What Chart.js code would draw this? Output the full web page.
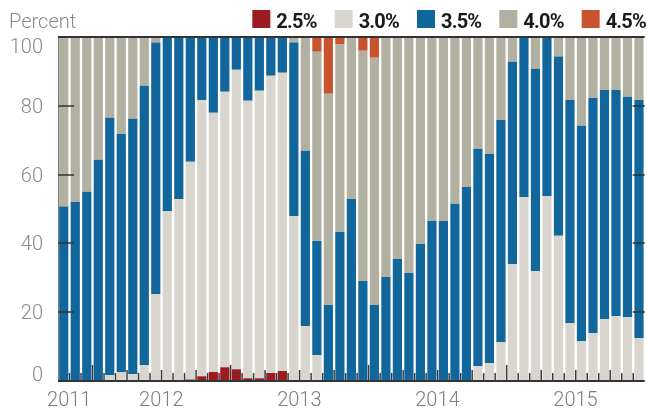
<!DOCTYPE html>
<html>
<head>
<meta charset="utf-8">
<script src="https://cdn.jsdelivr.net/npm/chart.js@4"></script>
<style>
  html, body { margin: 0; padding: 0; background: #fff; }
  canvas { display: block; }
</style>
</head>
<body>
<canvas id="chart" width="647" height="412"></canvas>
<script>
// one bar per month, Apr 2011 .. Jun 2015
const months = [
    '2011-04', '2011-05', '2011-06', '2011-07', '2011-08', '2011-09', '2011-10', '2011-11', '2011-12',
    '2012-01', '2012-02', '2012-03', '2012-04', '2012-05', '2012-06', '2012-07', '2012-08', '2012-09', '2012-10', '2012-11', '2012-12',
    '2013-01', '2013-02', '2013-03', '2013-04', '2013-05', '2013-06', '2013-07', '2013-08', '2013-09', '2013-10', '2013-11', '2013-12',
    '2014-01', '2014-02', '2014-03', '2014-04', '2014-05', '2014-06', '2014-07', '2014-08', '2014-09', '2014-10', '2014-11', '2014-12',
    '2015-01', '2015-02', '2015-03', '2015-04', '2015-05', '2015-06'
];

const seriesNames = ['2.5%', '3.0%', '3.5%', '4.0%', '4.5%'];

const rate25 = [
    0, 0, 0, 0, 0, 0, 0, 0, 0,
    0, 0, 0.4, 1.4, 2.6, 4.0, 3.4, 0.8, 0.8, 2.3, 2.9, 0,
    0, 0, 0, 0, 0, 0, 0, 0, 0, 0, 0, 0,
    0, 0, 0, 0, 0, 0, 0, 0, 0, 0, 0, 0,
    0, 0, 0, 0, 0, 0
];
const rate30 = [
    0, 0, 0, 0, 1.7, 2.6, 2.0, 4.6, 25.3,
    49.4, 52.9, 63.3, 80.3, 75.4, 80.1, 87.1, 80.7, 83.6, 86.4, 86.7, 48.0,
    16.0, 7.5, 0, 0, 0, 0, 0, 0, 0, 0, 0, 0,
    0, 0, 0, 4.3, 5.2, 11.3, 34.0, 53.5, 32.0, 53.8, 42.2, 16.8,
    11.6, 13.9, 18.0, 18.9, 18.6, 12.5
];
const rate35 = [
    50.7, 52.0, 55.0, 64.3, 74.8, 69.2, 74.2, 81.2, 73.1,
    50.6, 47.1, 36.3, 18.3, 22.0, 15.9, 9.5, 18.5, 15.6, 11.3, 10.4, 50.4,
    50.9, 33.2, 22.1, 43.3, 52.9, 29.1, 22.1, 30.2, 35.5, 31.4, 39.8, 46.5,
    46.5, 51.5, 56.4, 63.2, 60.8, 64.6, 58.8, 46.5, 58.8, 46.2, 52.1, 64.9,
    62.6, 68.4, 66.6, 65.7, 64.0, 69.2
];
const rate40 = [
    49.3, 48.0, 45.0, 35.7, 23.5, 28.2, 23.8, 14.2, 1.6,
    0, 0, 0, 0, 0, 0, 0, 0, 0, 0, 0, 1.6,
    33.1, 55.0, 61.4, 54.5, 47.1, 66.9, 71.9, 69.8, 64.5, 68.6, 60.2, 53.5,
    53.5, 48.5, 43.6, 32.5, 34.0, 24.1, 7.2, 0, 9.2, 0, 5.7, 18.3,
    25.8, 17.7, 15.4, 15.4, 17.4, 18.3
];
const rate45 = [
    0, 0, 0, 0, 0, 0, 0, 0, 0,
    0, 0, 0, 0, 0, 0, 0, 0, 0, 0, 0, 0,
    0, 4.3, 16.5, 2.2, 0, 4.0, 6.0, 0, 0, 0, 0, 0,
    0, 0, 0, 0, 0, 0, 0, 0, 0, 0, 0, 0,
    0, 0, 0, 0, 0, 0
];

const yTicks = [0, 20, 40, 60, 80, 100];
const yTitle = 'Percent';

const colors = ['#9b1c20', '#d8d5ce', '#11669b', '#b2b0a1', '#c8542f'];
const lightFont = '"Roboto", "Liberation Sans", sans-serif';
const legendFont = `bold 20px ${lightFont}`;

// gridline stubs, top/bottom rules, month marks, y labels and the legend
const framePlugin = {
    id: 'frame',
    afterDatasetsDraw(chart) {
        const { ctx, chartArea: area, scales: { x, y } } = chart;
        ctx.save();

        ctx.strokeStyle = '#7a7a7a';
        ctx.lineWidth = 1;
        ctx.beginPath();
        ctx.moveTo(area.left + 0.5, area.top);
        ctx.lineTo(area.left + 0.5, area.bottom);
        ctx.stroke();

        ctx.font = `300 20px ${lightFont}`;
        ctx.fillStyle = '#8a8a8a';
        ctx.textAlign = 'right';
        ctx.textBaseline = 'alphabetic';
        yTicks.forEach(v => {
            const py = Math.round(y.getPixelForValue(v));
            ctx.strokeStyle = '#333';
            ctx.beginPath();
            if (v === 0 || v === 100) {
                ctx.lineWidth = 2;
                ctx.moveTo(area.left, py);
                ctx.lineTo(area.right, py);
            } else {
                ctx.lineWidth = 1.5;
                ctx.moveTo(area.left, py);
                ctx.lineTo(area.left + 16, py);
                ctx.moveTo(area.right - 12, py);
                ctx.lineTo(area.right, py);
            }
            ctx.stroke();
            // end labels are kept inside the plot height
            const base = Math.min(Math.max(py + 7, area.top + 15.5), area.bottom - 0.5);
            ctx.fillText(String(v), 43, base);
        });

        ctx.strokeStyle = '#3a3a3a';
        ctx.lineWidth = 1.5;
        for (let i = 1; i < months.length; i++) {
            const px = (x.getPixelForValue(i - 1) + x.getPixelForValue(i)) / 2;
            const m = months[i].slice(5);
            let h = 8;
            if (m === '07') {
                h = 16;
            } else if (m === '01' || m === '04' || m === '10') {
                h = 11;
            }
            ctx.beginPath();
            ctx.moveTo(px, area.bottom);
            ctx.lineTo(px, area.bottom - h);
            ctx.stroke();
        }

        ctx.textAlign = 'left';
        ctx.fillText(yTitle, 9, 28);

        // legend, laid out from the right edge
        ctx.font = legendFont;
        ctx.letterSpacing = '-0.8px';
        let right = 646;
        for (let i = seriesNames.length - 1; i >= 0; i--) {
            const w = ctx.measureText(seriesNames[i]).width;
            const textX = right - w;
            const boxX = textX - 24;
            ctx.fillStyle = colors[i];
            ctx.fillRect(boxX, 10, 18, 18);
            ctx.fillStyle = '#1a1a1a';
            ctx.fillText(seriesNames[i], textX, 27.5);
            right = boxX - 18;
        }
        ctx.restore();
    }
};

const datasets = [rate25, rate30, rate35, rate40, rate45].map((data, idx) => ({
    label: seriesNames[idx],
    data,
    backgroundColor: colors[idx],
    borderWidth: 0,
    barPercentage: 0.8,
    categoryPercentage: 1,
}));

new Chart(document.getElementById('chart'), {
    type: 'bar',
    data: { labels: months, datasets },
    plugins: [framePlugin],
    options: {
        responsive: false,
        animation: false,
        devicePixelRatio: 1,
        layout: { padding: { top: 37, right: 0, bottom: 0, left: 0 } },
        plugins: {
            legend: { display: false },
            tooltip: { enabled: false },
        },
        scales: {
            x: {
                stacked: true,
                grid: { display: false, drawTicks: false },
                border: { display: false },
                afterFit: (scale) => { scale.height = 31; },
                ticks: {
                    autoSkip: false,
                    maxRotation: 0,
                    padding: 8,
                    labelOffset: -6,
                    color: '#7d7d7d',
                    font: { family: lightFont, size: 20, weight: 300 },
                    callback: (value, index) => {
                        const m = months[index];
                        if (m.endsWith('-01') || index === 1) {
                            return m.slice(0, 4);
                        }
                        return '';
                    },
                },
            },
            y: {
                stacked: true,
                min: 0,
                max: 100,
                grid: { display: false, drawTicks: false },
                border: { display: false },
                afterFit: (scale) => { scale.width = 58; },
                ticks: { display: false, stepSize: 20 },
            },
        },
    },
});
</script>
</body>
</html>
